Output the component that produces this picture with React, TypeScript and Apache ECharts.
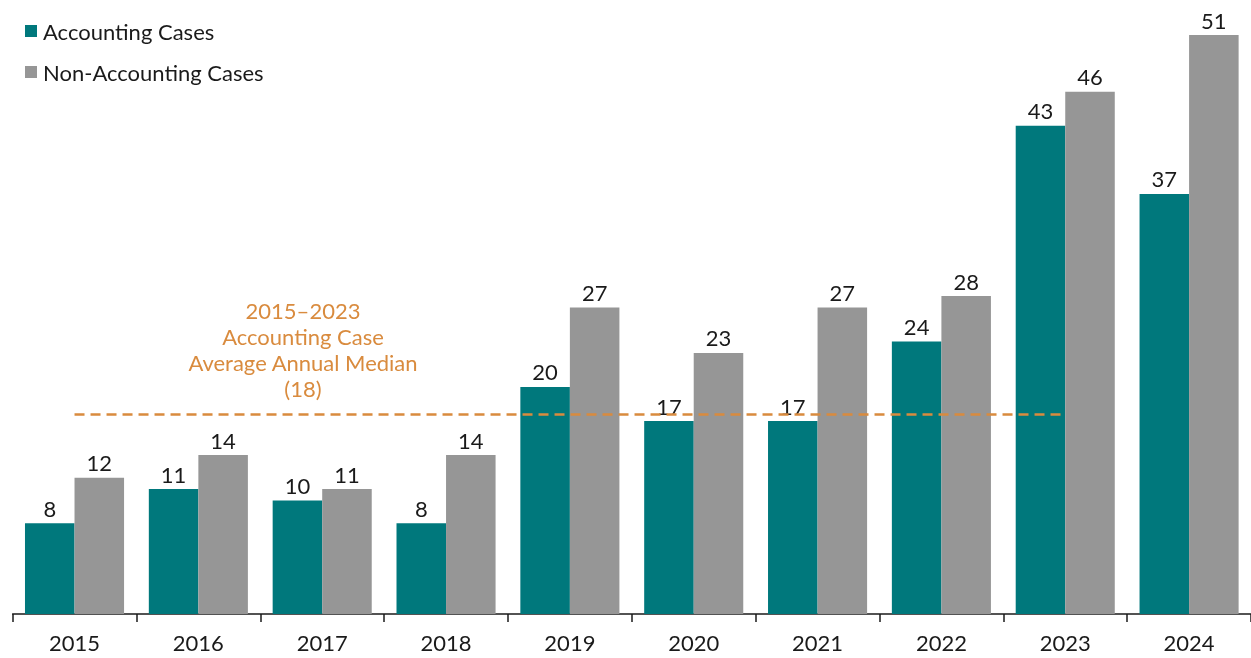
import React, { useEffect, useRef } from "react";
import * as echarts from "echarts";

const categories = ["2015", "2016", "2017", "2018", "2019", "2020", "2021", "2022", "2023", "2024"];
const accountingCases = [8, 11, 10, 8, 20, 17, 17, 24, 43, 37];
const nonAccountingCases = [12, 14, 11, 14, 27, 23, 27, 28, 46, 51];
const medianValue = 17.6;
const medianStart = "2015";
const medianEnd = "2023";
const annotationText = "2015\u20132023\nAccounting Case\nAverage Annual Median\n(18)";

const TEAL = "#00787C";
const GRAY = "#969696";
const ORANGE = "#D98B3E";
const FONT = "Lato, 'Noto Sans', sans-serif";

export default function App() {
  const ref = useRef<HTMLDivElement>(null);
  useEffect(() => {
    if (!ref.current) return;
    const chart = echarts.init(ref.current, undefined, { renderer: "svg" });
    const labelStyle = {
      show: true,
      position: "top" as const,
      distance: 4,
      color: "#1a1a1a",
      fontSize: 22,
      fontFamily: FONT,
    };
    chart.setOption({
      animation: false,
      textStyle: { fontFamily: FONT },
      legend: {
        orient: "vertical",
        left: 25,
        top: 20,
        padding: 0,
        itemWidth: 12,
        itemHeight: 12,
        itemGap: 19,
        icon: "rect",
        textStyle: { fontSize: 22, color: "#1a1a1a", fontFamily: FONT, padding: [0, 0, 0, 1] },
        data: ["Accounting Cases", "Non-Accounting Cases"],
      },
      grid: { left: 12.6, right: -3.6, top: 35, bottom: 44, containLabel: false },
      xAxis: {
        type: "category",
        data: categories,
        axisLine: { lineStyle: { color: "#1a1a1a", width: 1.5 } },
        axisTick: { show: true, length: 8, lineStyle: { color: "#1a1a1a", width: 1.5 } },
        axisLabel: { fontSize: 22, color: "#1a1a1a", margin: 17, fontFamily: FONT },
      },
      yAxis: {
        type: "value",
        min: 0,
        max: 51,
        show: false,
        splitLine: { show: false },
      },
      series: [
        {
          name: "Accounting Cases",
          type: "bar",
          data: accountingCases,
          itemStyle: { color: TEAL },
          barGap: "0%",
          barCategoryGap: "20%",
          label: labelStyle,
        },
        {
          name: "Non-Accounting Cases",
          type: "bar",
          data: nonAccountingCases,
          itemStyle: { color: GRAY },
          barGap: "0%",
          barCategoryGap: "20%",
          label: labelStyle,
        },
        {
          name: "Median",
          type: "line",
          data: [],
          silent: true,
          markLine: {
            symbol: "none",
            silent: true,
            label: { show: false },
            lineStyle: { color: ORANGE, type: [10, 6], width: 2.5 },
            data: [
              [
                { xAxis: medianStart, yAxis: medianValue },
                { xAxis: medianEnd, yAxis: medianValue },
              ],
            ],
          },
        },
      ],
      graphic: [
        {
          type: "text",
          x: 303,
          y: 297,
          style: {
            text: annotationText,
            fill: ORANGE,
            fontSize: 22,
            lineHeight: 26,
            fontFamily: FONT,
            align: "center",
          },
        },
      ],
    });
    return () => chart.dispose();
  }, []);
  return (
    <div
      ref={ref}
      style={{ position: "fixed", left: 0, top: 0, width: 1251, height: 658, overflow: "hidden" }}
    />
  );
}
